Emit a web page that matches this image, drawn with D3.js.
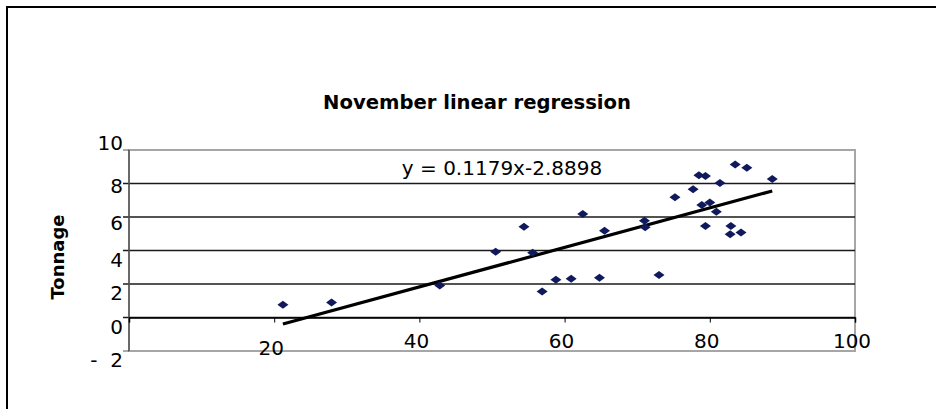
<!DOCTYPE html>
<html>
<head>
<meta charset="utf-8">
<script src="https://cdn.jsdelivr.net/npm/d3@7"></script>
<style>
  body { margin: 0; background: #fff; }
  text { font-family: "DejaVu Sans", Verdana, sans-serif; }
</style>
</head>
<body>
<div class="chart"></div>
<script>
// November readings: x value and tonnage
var xValues = [21.2, 27.9, 42.8, 50.5, 54.4, 55.6, 56.9, 58.8, 60.9, 62.5,
               64.8, 65.5, 71.0, 71.1, 73.0, 75.2, 77.7, 78.5, 79.4, 78.9,
               80.0, 80.9, 81.4, 79.4, 82.9, 82.8, 84.3, 83.5, 85.1, 88.6];
var tonnage = [0.76, 0.89, 1.91, 3.93, 5.42, 3.87, 1.55, 2.25, 2.31, 6.18,
               2.38, 5.18, 5.78, 5.39, 2.53, 7.18, 7.65, 8.50, 8.45, 6.72,
               6.86, 6.32, 8.03, 5.46, 5.46, 4.97, 5.07, 9.14, 8.94, 8.27];
var xTicks = [0, 20, 40, 60, 80, 100];
var xTickLabels = ["20", "40", "60", "80", "100"];
var yTicks = [-2, 0, 2, 4, 6, 8, 10];
var slope = 0.1179, intercept = -2.8898;
var equation = "y = 0.1179x-2.8898";
var title = "November linear regression";
var yTitle = "Tonnage";

var W = 936, H = 409;
var svg = d3.select('.chart')
  .append('svg')
  .attr('width', W)
  .attr('height', H);

// outer frame (runs off the right and bottom edge)
svg.append('rect')
  .attr('x', 7).attr('y', 7)
  .attr('width', 960).attr('height', 440)
  .style('fill', 'none')
  .style('stroke', '#000')
  .style('stroke-width', 2);

var x = d3.scaleLinear().domain([0, 100]).range([129, 855]);
var y = d3.scaleLinear().domain([-2, 10]).range([351, 150]);

// plot area border
svg.append('rect')
  .attr('x', x(0)).attr('y', y(10))
  .attr('width', x(100) - x(0))
  .attr('height', y(-2) - y(10))
  .style('fill', 'none')
  .style('stroke', '#a6a6a6')
  .style('stroke-width', 2);

// gridlines + little ticks to the left
svg.selectAll('line.grid')
  .data(yTicks.filter(function (d) { return d > -2 && d < 10; }))
  .enter()
  .append('line')
  .attr('class', 'grid')
  .attr('x1', x(0) - 6)
  .attr('x2', x(100))
  .attr('y1', function (d) { return y(d); })
  .attr('y2', function (d) { return y(d); })
  .style('stroke', '#1a1a1a')
  .style('stroke-width', 1.3);

svg.selectAll('line.ytick')
  .data([-2, 10])
  .enter()
  .append('line')
  .attr('x1', x(0) - 6)
  .attr('x2', x(0))
  .attr('y1', function (d) { return y(d); })
  .attr('y2', function (d) { return y(d); })
  .style('stroke', '#555')
  .style('stroke-width', 1);

// left axis line
svg.append('line')
  .attr('x1', x(0)).attr('x2', x(0))
  .attr('y1', y(10)).attr('y2', y(-2))
  .style('stroke', '#555')
  .style('stroke-width', 1.5);

// x axis sits at y = 0
var xAxis = d3.axisBottom(x)
  .tickValues(xTicks)
  .tickSize(5)
  .tickFormat('');
var xg = svg.append('g')
  .attr('transform', 'translate(0,' + y(0) + ')')
  .call(xAxis);
xg.select('.domain').style('stroke', '#000').style('stroke-width', 1.5);
xg.selectAll('.tick line').style('stroke', '#000');

// x tick labels (Excel put the first one a bit lower)
svg.selectAll('text.xlab')
  .data(xTickLabels)
  .enter()
  .append('text')
  .attr('x', function (d) { return x(+d) - 3; })
  .attr('y', function (d, i) { return i === 0 ? 355 : 348; })
  .style('text-anchor', 'middle')
  .style('font-size', '20px')
  .style('fill', '#000')
  .text(function (d) { return d; });

// y tick labels
var yDy = { "10": 0, "8": 9, "6": 13 };
svg.selectAll('text.ylab')
  .data(yTicks)
  .enter()
  .append('text')
  .attr('x', 123)
  .attr('y', function (d) { return y(d) + (yDy[d] !== undefined ? yDy[d] : 16); })
  .style('text-anchor', 'end')
  .style('font-size', '20px')
  .style('white-space', 'pre')
  .style('fill', '#000')
  .text(function (d) { return d < 0 ? '-  ' + Math.abs(d) : d; });

// trend line over the data range
var xMin = d3.min(xValues), xMax = d3.max(xValues);
svg.append('line')
  .attr('x1', x(xMin)).attr('y1', y(slope * xMin + intercept))
  .attr('x2', x(xMax)).attr('y2', y(slope * xMax + intercept))
  .style('stroke', '#000')
  .style('stroke-width', 3.2);

// diamond markers
svg.selectAll('path.pt')
  .data(xValues)
  .enter()
  .append('path')
  .attr('class', 'pt')
  .attr('transform', function (d, i) {
    return 'translate(' + x(d) + ',' + y(tonnage[i]) + ')';
  })
  .attr('d', 'M-5.5,0L0,-4L5.5,0L0,4Z')
  .style('fill', '#10195c');

svg.append('text')
  .attr('x', 502)
  .attr('y', 175)
  .style('text-anchor', 'middle')
  .style('font-size', '20px')
  .style('fill', '#000')
  .text(equation);

svg.append('text')
  .attr('x', 477)
  .attr('y', 109)
  .style('text-anchor', 'middle')
  .style('font-size', '19.6px')
  .style('font-weight', 'bold')
  .style('fill', '#000')
  .text(title);

svg.append('text')
  .attr('transform', 'translate(64,257) rotate(-90)')
  .style('text-anchor', 'middle')
  .style('font-size', '18px')
  .style('font-weight', 'bold')
  .style('fill', '#000')
  .text(yTitle);
</script>
</body>
</html>
